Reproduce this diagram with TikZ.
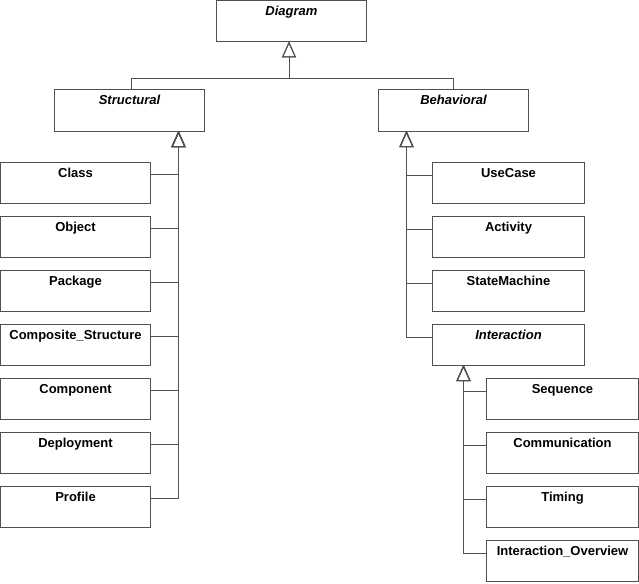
\documentclass[tikz,border=0pt]{standalone}
\usepackage{fontspec}
\setmainfont{Liberation Sans}
\usetikzlibrary{arrows.meta,positioning}
\definecolor{linegray}{RGB}{80,80,80}

\begin{document}
\begin{tikzpicture}[x=1pt, y=-1pt,
    umlbox/.style={draw=linegray, line width=1pt, minimum width=150pt,
      inner xsep=2pt, inner ysep=0pt, outer sep=0pt, text height=15pt, text depth=26pt,
      font=\fontsize{13}{15}\selectfont\bfseries},
    abstract/.style={umlbox, font=\fontsize{13}{15}\selectfont\bfseries\itshape},
    wide/.style={minimum width=152pt},
    inherit/.style={draw=linegray, line width=1pt,
      -{Triangle[open, length=16pt, width=14pt]}},
    node distance=13pt]
  \useasboundingbox (0,0) rectangle (639,583);

  % root and the two main kinds
  \node[abstract, anchor=north west] (diagram) at (216.5,0.5) {Diagram};
  \node[abstract, anchor=north west] (structural) at (54.5,90) {Structural};
  \node[abstract, anchor=north west] (behavioral) at (378.5,90) {Behavioral};

  % structural diagrams
  \node[umlbox, anchor=north west] (class) at (0.5,162.5) {Class};
  \node[umlbox, below=of class] (object) {Object};
  \node[umlbox, below=of object] (package) {Package};
  \node[umlbox, below=of package] (composite) {Composite\_Structure};
  \node[umlbox, below=of composite] (component) {Component};
  \node[umlbox, below=of component] (deployment) {Deployment};
  \node[umlbox, below=of deployment] (profile) {Profile};

  % behavioral diagrams
  \node[umlbox, wide, anchor=north west] (usecase) at (432.5,162.5) {UseCase};
  \node[umlbox, wide, below=of usecase] (activity) {Activity};
  \node[umlbox, wide, below=of activity] (statemachine) {StateMachine};
  \node[abstract, wide, below=of statemachine] (interaction) {Interaction};

  % interaction diagrams
  \node[umlbox, wide, anchor=north west] (sequence) at (486.5,378.5) {Sequence};
  \node[umlbox, wide, below=of sequence] (communication) {Communication};
  \node[umlbox, wide, below=of communication] (timing) {Timing};
  \node[umlbox, wide, below=of timing] (overview) {Interaction\_Overview};

  % where the generalisations meet
  \coordinate (diagin) at (289,41.5);
  \coordinate (bar) at (289,79);
  \coordinate (structin) at (178.5,131);
  \coordinate (behavin) at (406.5,131);
  \coordinate (interin) at (463.5,365);

  \draw[inherit] ([xshift=2pt]structural.north) |- (bar) -- (diagin);
  \draw[inherit] (behavioral.north) |- (bar) -- (diagin);

  \foreach \kid in {class,object,package,composite,component,deployment,profile}
    \draw[inherit] ([yshift=9pt]\kid.east) -| (structin);
  \foreach \kid in {usecase,activity,statemachine,interaction}
    \draw[inherit] ([yshift=8pt]\kid.west) -| (behavin);
  \foreach \kid in {sequence,communication,timing,overview}
    \draw[inherit] ([yshift=8pt]\kid.west) -| (interin);
\end{tikzpicture}
\end{document}
